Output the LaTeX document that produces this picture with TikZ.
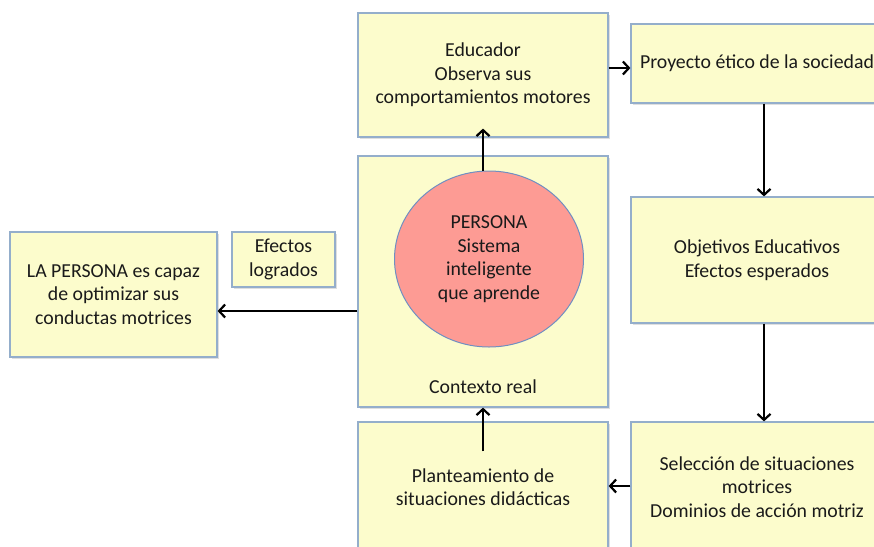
\documentclass[tikz,border=0pt]{standalone}
\usepackage{fontspec}
\setmainfont{Carlito}
\usetikzlibrary{arrows.meta,shadows,shapes.geometric}
\definecolor{boxfill}{HTML}{FCFCCC}
\definecolor{boxline}{HTML}{94AECB}
\definecolor{circfill}{HTML}{FD9B94}
\definecolor{circline}{HTML}{6F8FC2}
\definecolor{txt}{HTML}{1A1A1A}
\tikzset{
  box/.style={draw=boxline, line width=1.2pt, fill=boxfill, rectangle,
    inner sep=0pt, align=center, text=txt,
    font=\fontsize{19.8}{23.5}\selectfont,
    drop shadow={opacity=0.25, shadow xshift=1.5pt, shadow yshift=-2pt}},
  circ/.style={draw=circline, line width=1pt, fill=circfill, ellipse,
    inner sep=0pt, align=center, text=txt,
    font=\fontsize{19.8}{23.5}\selectfont},
  lbl/.style={text=txt, font=\fontsize{19.8}{23.5}\selectfont},
  arr/.style={-{Straight Barb[length=6pt,width=13pt,line width=2.2pt]}, line width=2.2pt, black}
}
\begin{document}
\begin{tikzpicture}[x=1pt,y=-1pt]
\useasboundingbox (0,0) rectangle (874,546);
\clip (0,0) rectangle (874,546);
\fill[white] (0,0) rectangle (874,546);
% boxes
\node[box, minimum width=250pt, minimum height=124pt] (edu) at (483,75)
  {Educador\\Observa sus\\comportamientos motores};
\node[box, minimum width=252pt, minimum height=79pt] (proy) at (757,63.5)
  {Proyecto ético de la sociedad};
\node[box, minimum width=250pt, minimum height=251pt] (ctx) at (483,281.5) {};
\node[lbl] (ctxlbl) at (483,387) {Contexto real};
\node[circ, minimum width=189pt, minimum height=176pt] (circ) at (489,259)
  {PERSONA\\Sistema\\inteligente\\que aprende};
\node[box, minimum width=252pt, minimum height=126pt] (obj) at (757,260)
  {Objetivos Educativos\\Efectos esperados};
\node[box, minimum width=252pt, minimum height=130pt] (sel) at (757,487)
  {Selección de situaciones\\motrices\\Dominios de acción motriz};
\node[box, minimum width=250pt, minimum height=130pt] (plan) at (483,487)
  {Planteamiento de\\situaciones didácticas};
\node[box, minimum width=207pt, minimum height=125pt] (lap) at (113.5,294.5)
  {LA PERSONA es capaz\\de optimizar sus\\conductas motrices};
\node[box, minimum width=103pt, minimum height=55pt] (efe) at (283.5,259.5)
  {Efectos\\logrados};
% connectors
\draw[arr] (circ.north -| edu.south) -- ([yshift=9pt]edu.south);
\draw[arr] ([yshift=7pt]edu.east) -- ([yshift=-4.5pt]proy.west);
\draw[arr] ([xshift=7pt]proy.south) -- ([xshift=7pt]obj.north);
\draw[arr] ([xshift=7pt]obj.south) -- ([xshift=7pt]sel.north);
\draw[arr] ([yshift=1pt]sel.west) -- ([yshift=1pt]plan.east);
\draw[arr] ([yshift=-30pt]plan.north) -- (ctx.south);
\draw[arr] ([yshift=-29.5pt]ctx.west) -- ([yshift=-16.5pt]lap.east);
\end{tikzpicture}
\end{document}
